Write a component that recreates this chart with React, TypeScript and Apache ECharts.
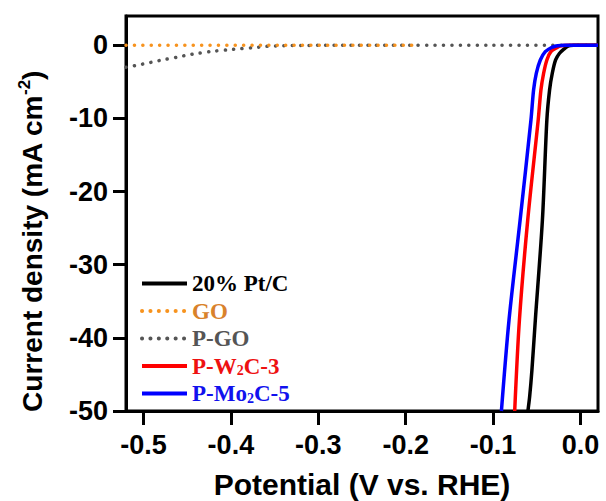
import React, { useEffect, useRef } from 'react';
import * as echarts from 'echarts';

const xTicks = [-0.5, -0.4, -0.3, -0.2, -0.1, 0.0];
const yTicks = [-50, -40, -30, -20, -10, 0];

const seriesNames = ['20% Pt/C', 'GO', 'P-GO', 'P-W2C-3', 'P-Mo2C-5'];

const ptcPotential = [-0.0602, -0.0582, -0.0556, -0.0517, -0.0436, -0.0385, -0.0354, -0.0323, -0.0285, -0.024, -0.0186, -0.015, -0.0118, -0.008, 0.0, 0.02];
const ptcCurrent = [-50, -48.04, -44.4, -37.56, -23.89, -10.21, -6.11, -3.83, -2.01, -1.09, -0.5, -0.18, -0.05, 0, 0, 0];

const goPotential = [-0.52, -0.4, -0.3, -0.193];
const goCurrent = [0, 0, 0, 0];

const pgoPotential = [-0.52, -0.51, -0.5, -0.49, -0.48, -0.46, -0.45, -0.44, -0.42, -0.4, -0.39, -0.37, -0.36, -0.34, -0.32, -0.3, -0.2, -0.1, 0.0, 0.02];
const pgoCurrent = [-3.0, -2.8, -2.55, -2.3, -2.05, -1.6, -1.35, -1.15, -0.82, -0.58, -0.48, -0.28, -0.16, -0.07, -0.03, -0.01, 0, 0, 0, 0];

const w2cPotential = [-0.0753, -0.0699, -0.0604, -0.0484, -0.0453, -0.0422, -0.0385, -0.0339, -0.0271, -0.0235, -0.0194, -0.015, 0.0, 0.02];
const w2cCurrent = [-50, -37.56, -23.89, -10.21, -6.11, -3.83, -2.01, -0.875, -0.33, -0.12, -0.03, 0, 0, 0];

const mo2cPotential = [-0.0905, -0.0818, -0.0691, -0.0567, -0.0537, -0.0506, -0.046, -0.0403, -0.0331, -0.028, -0.0228, -0.018, 0.0, 0.02];
const mo2cCurrent = [-50, -37.56, -23.89, -10.21, -6.11, -3.83, -2.01, -0.875, -0.3, -0.1, -0.02, 0, 0, 0];

const pairs = (xs: number[], ys: number[]) => xs.map((x, i) => [x, ys[i]]);

const SANS = "'Liberation Sans', Arial, sans-serif";
const SERIF = "'Liberation Serif', 'Times New Roman', serif";
const sansBold = { fontFamily: SANS, fontWeight: 'bold' as const, color: '#000' };

export default function App() {
  const ref = useRef<HTMLDivElement>(null);
  useEffect(() => {
    if (!ref.current) return;
    const chart = echarts.init(ref.current, null, { renderer: 'svg' });
    const dotted = (color: string) => ({ color, width: 3.5, type: [0.1, 8.3], cap: 'round' as const });
    const serifTok = (color: string, size: number, extra: any = {}) => ({ color, fontFamily: SERIF, fontWeight: 'bold', fontSize: size, lineHeight: 23, ...extra });
    chart.setOption({
      animation: false,
      backgroundColor: '#fff',
      grid: { left: 126, right: 8, top: 16, bottom: 90, show: true, borderColor: '#000', borderWidth: 3, outerBoundsMode: 'none' },
      xAxis: {
        type: 'value', min: -0.52, max: 0.02,
        axisLine: { show: true, onZero: false, lineStyle: { color: '#000', width: 3 } },
        axisTick: { show: true, length: 14, lineStyle: { color: '#000', width: 3 }, customValues: xTicks },
        axisLabel: { ...sansBold, fontSize: 27, margin: 20, customValues: xTicks, formatter: (v: number) => v.toFixed(1) },
        splitLine: { show: false },
        name: 'Potential (V vs. RHE)', nameLocation: 'middle', nameGap: 58,
        nameTextStyle: { ...sansBold, fontSize: 30 },
      },
      yAxis: {
        type: 'value', min: -50, max: 4,
        axisLine: { show: true, onZero: false, lineStyle: { color: '#000', width: 3 } },
        axisTick: { show: true, length: 13, lineStyle: { color: '#000', width: 3 }, customValues: yTicks },
        axisLabel: { ...sansBold, fontSize: 27, margin: 18, customValues: yTicks, formatter: (v: number) => String(v) },
        splitLine: { show: false },
        name: '{n|Current density (mA cm}{sup|-2}{n|)}', nameLocation: 'middle', nameGap: 78,
        nameTextStyle: {
          ...sansBold, fontSize: 28, lineHeight: 32, padding: [0, 56, 0, 0],
          rich: {
            n: { ...sansBold, fontSize: 28, lineHeight: 32 },
            sup: { ...sansBold, fontSize: 17, lineHeight: 32, verticalAlign: 'top' },
          },
        },
      },
      legend: {
        orient: 'vertical', left: 135, top: 267, itemWidth: 45, itemHeight: 14, itemGap: 4.5,
        selectedMode: false,
        itemStyle: { opacity: 0 },
        lineStyle: { width: 4 },
        data: [
          { name: seriesNames[0], textStyle: { color: '#000' } },
          { name: seriesNames[1], textStyle: { color: '#d9822b' } },
          { name: seriesNames[2], textStyle: { color: '#555555' } },
          { name: seriesNames[3], textStyle: { color: '#ee1111' } },
          { name: seriesNames[4], textStyle: { color: '#1111ee' } },
        ],
        textStyle: {
          fontFamily: SERIF, fontWeight: 'bold', fontSize: 23, lineHeight: 23,
          rich: {
            r: serifTok('#ee1111', 23),
            rs: serifTok('#ee1111', 14, { verticalAlign: 'bottom' }),
            b: serifTok('#1111ee', 23),
            bs: serifTok('#1111ee', 14, { verticalAlign: 'bottom' }),
          },
        },
        formatter: (n: string) => {
          if (n === 'P-W2C-3') return '{r|P-W}{rs|2}{r|C-3}';
          if (n === 'P-Mo2C-5') return '{b|P-Mo}{bs|2}{b|C-5}';
          return n;
        },
      },
      series: [
        { name: seriesNames[2], type: 'line', symbol: 'none', smooth: 0.3, data: pairs(pgoPotential, pgoCurrent), lineStyle: dotted('#555555'), itemStyle: { color: '#555555' }, z: 2 },
        { name: seriesNames[1], type: 'line', symbol: 'none', data: pairs(goPotential, goCurrent), lineStyle: dotted('#f7931e'), itemStyle: { color: '#f7931e' }, z: 3 },
        { name: seriesNames[0], type: 'line', symbol: 'none', smooth: 0.3, data: pairs(ptcPotential, ptcCurrent), lineStyle: { color: '#000', width: 3.5 }, itemStyle: { color: '#000' }, z: 4 },
        { name: seriesNames[3], type: 'line', symbol: 'none', smooth: 0.3, data: pairs(w2cPotential, w2cCurrent), lineStyle: { color: '#ff0000', width: 3.5 }, itemStyle: { color: '#ff0000' }, z: 5 },
        { name: seriesNames[4], type: 'line', symbol: 'none', smooth: 0.3, data: pairs(mo2cPotential, mo2cCurrent), lineStyle: { color: '#0000ff', width: 3.5 }, itemStyle: { color: '#0000ff' }, z: 6 },
      ],
    });
    return () => chart.dispose();
  }, []);
  return <div ref={ref} style={{ position: 'fixed', left: 0, top: 0, width: 606, height: 501 }} />;
}
